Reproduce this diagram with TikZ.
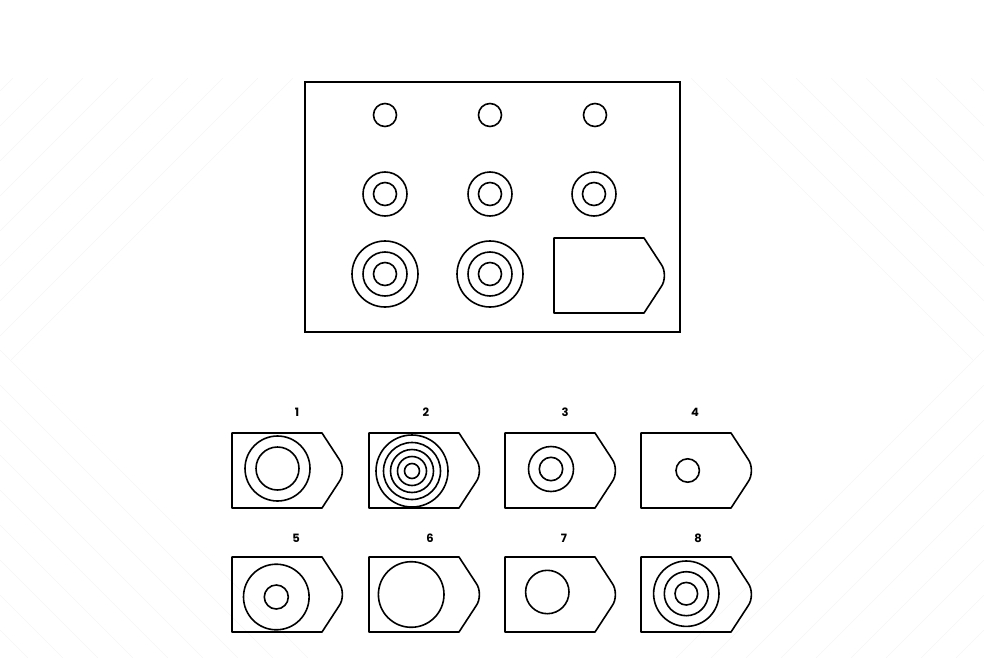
\documentclass[tikz,border=0pt]{standalone}
\usepackage{fontspec}
\newfontfamily\numfont{Poppins}
\tikzset{
    frame/.style = {draw=black, line width=1.6pt},
    ring/.style = {draw=black, line width=1.6pt},
    hatch/.style = {draw=black!4, line width=0.5pt},
    tag/.style = {font=\numfont\bfseries\fontsize{11.5}{13}\selectfont, inner sep=0pt},
    tile/.pic = {
        \draw[frame, line join=round] (0,0) -- (90,0) -- (107,26) .. controls (111.5,32) and (111.5,43) .. (107,49) -- (90,75) -- (0,75) -- cycle;
    }
}

\begin{document}
\begin{tikzpicture}[x=1pt, y=-1pt]
	\useasboundingbox (0,0) rectangle (984,658);

	\foreach \i in {0,...,8} {
		\draw[hatch] ({293-35*\i},78) -- ++({-min(293-35*\i,282)},{min(293-35*\i,282)});
		\draw[hatch] ({691+35*\i},78) -- ++({min(293-35*\i,282)},{min(293-35*\i,282)});
		\draw[hatch] (0,{350+35*\i}) -- ++({308-35*\i},{308-35*\i});
		\draw[hatch] (984,{350+35*\i}) -- ++({-308+35*\i},{308-35*\i});
	}

	\draw[frame] (305,82) rectangle (680,332);

	\foreach \cx in {385,490,595}
		\draw[ring] (\cx,115) circle (11.5pt);
	\foreach \cx in {385,490,594}
		\foreach \r in {11.5,22}
			\draw[ring] (\cx,194) circle (\r pt);
	\foreach \cx in {385,490}
		\foreach \r in {11.5,22,33}
			\draw[ring] (\cx,274) circle (\r pt);
	\pic at (554,238) {tile};

	\foreach \n/\x/\y in {1/297/412, 2/426/412, 3/565/412, 4/695/412, 5/296/538, 6/430/538, 7/564/538, 8/698/538}
		\node[tag] (lab\n) at (\x,\y) {\n};

	\foreach \x/\y in {232/433, 369/433, 505/433, 641/433, 232/557, 369/557, 505/557, 641/557}
		\pic at (\x,\y) {tile};

	\foreach \r in {21.5,32.5}
		\draw[ring] (277.5,468.5) circle (\r pt);
	\foreach \r in {7.5,14.5,21.5,28.5,36}
		\draw[ring] (412,471) circle (\r pt);
	\foreach \r in {11.7,22.5}
		\draw[ring] (551,469) circle (\r pt);
	\draw[ring] (687.7,470.5) circle (11.7pt);

	\foreach \r in {12,32.8}
		\draw[ring] (276.3,597) circle (\r pt);
	\draw[ring] (411.2,594.5) circle (32.8pt);
	\draw[ring] (547.3,592) circle (21.7pt);
	\foreach \r in {11.3,22,32.7}
		\draw[ring] (686.3,593.7) circle (\r pt);
\end{tikzpicture}
\end{document}
